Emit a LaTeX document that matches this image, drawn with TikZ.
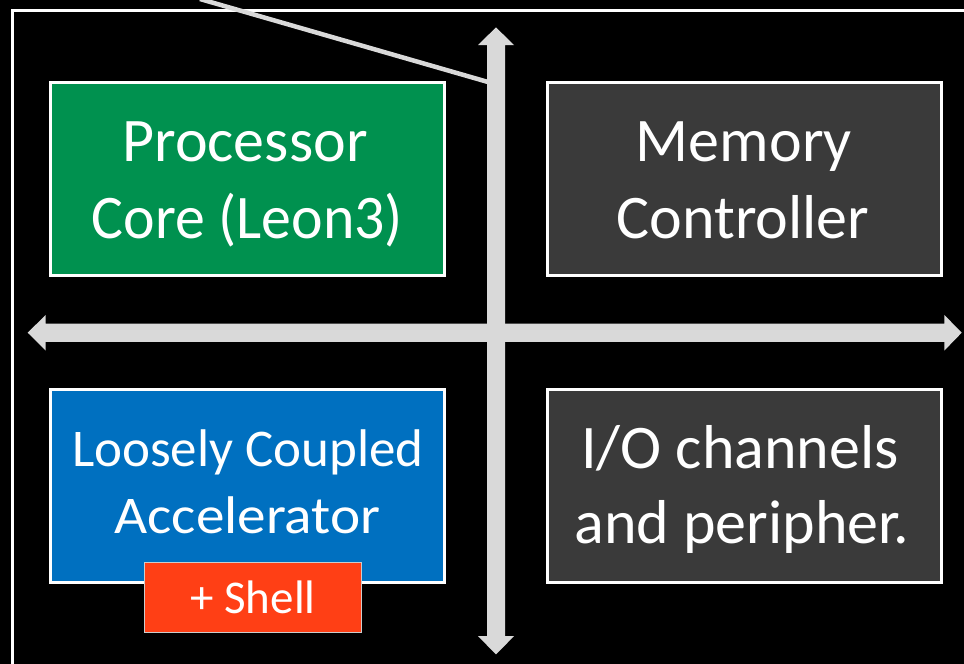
\documentclass[tikz,border=0pt]{standalone}
\usepackage{fontspec}
\setmainfont{Carlito}
\definecolor{coregreen}{HTML}{00914F}
\definecolor{accblue}{HTML}{0070C0}
\definecolor{unitgray}{HTML}{3A3A3A}
\definecolor{shellred}{HTML}{FF3F15}
\definecolor{busgray}{HTML}{D9D9D9}
\tikzset{
  unitbox/.style={draw=white, line width=3pt, minimum width=394pt, minimum height=193pt,
    inner sep=0pt},
  bigtext/.style={anchor=base, inner sep=0pt, text=white, font=\fontsize{62}{76}\selectfont},
  midtext/.style={anchor=base, inner sep=0pt, text=white, font=\fontsize{53}{67}\selectfont},
  busarrow/.style={fill=busgray, draw=none},
}
\begin{document}
\begin{tikzpicture}[x=1pt, y=-1pt]
  % page and black background
  \useasboundingbox (0,0) rectangle (964,664);
  \fill[black] (0,0) rectangle (964,664);
  \begin{scope}
    \clip (0,0) rectangle (964,664);
    % outer chip outline (continues past the page edges)
    \draw[white, line width=2.5pt] (12.7,10.5) rectangle (980,680);
  \end{scope}

  % horizontal bus
  \fill[busarrow] (27.7,332.7) -- (45.7,314.9) -- (45.7,323.6) -- (944.3,323.6)
    -- (944.3,314.9) -- (961.7,332.7) -- (944.3,350.6) -- (944.3,341.8)
    -- (45.7,341.8) -- (45.7,350.6) -- cycle;
  % vertical bus
  \fill[busarrow] (496,27.4) -- (514,45) -- (505,45) -- (505,636.2)
    -- (514,636.2) -- (496,654.3) -- (478,636.2) -- (487,636.2)
    -- (487,45) -- (478,45) -- cycle;

  % pointer line towards the bus
  \coordinate (ptrstart) at (200,-1);
  \coordinate (ptrend) at (488,82);
  \draw[busgray, line width=4.5pt] (ptrstart) -- (ptrend);

  % functional units
  \node[unitbox, fill=coregreen] (core) at (247.5,179) {};
  \node[unitbox, fill=unitgray] (mem) at (744,179) {};
  \node[unitbox, fill=accblue] (acc) at (247.5,486) {};
  \node[unitbox, fill=unitgray] (io) at (744,486) {};

  % unit labels, one node per printed line
  \node[bigtext] (coreA) at (245,161.7) {Processor};
  \node[bigtext, xscale=0.965] (coreB) at (247.5,238.3) {Core (Leon3)};
  \node[bigtext] (memA) at (744,161.7) {Memory};
  \node[bigtext] (memB) at (743,238.3) {Controller};
  \node[midtext] (accA) at (248,466.7) {Loosely Coupled};
  \node[midtext, xscale=1.08] (accB) at (247.5,533.3) {Accelerator};
  \node[bigtext] (ioA) at (740,468.3) {I/O channels};
  \node[bigtext] (ioB) at (742,543.3) {and peripher.};

  % shell attached to the accelerator
  \node[draw=busgray!85!gray, line width=1pt, fill=shellred,
    minimum width=217pt, minimum height=70pt, inner sep=0pt] (shell) at (253.3,597.3) {};
  \node[anchor=base, inner sep=0pt, text=white, font=\fontsize{47}{56}\selectfont]
    (shelltext) at (253,613.3) {+ Shell};
\end{tikzpicture}
\end{document}
